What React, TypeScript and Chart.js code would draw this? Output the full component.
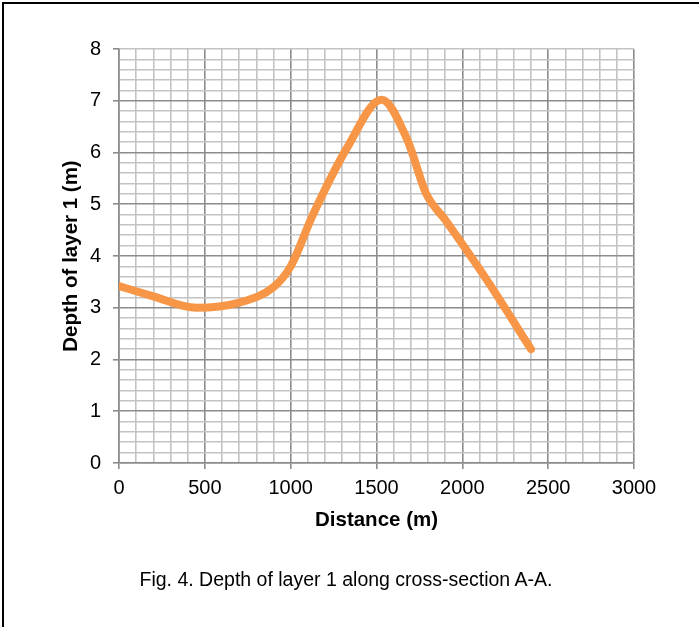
import React, { useEffect, useRef } from "react";
import { Chart, registerables } from "chart.js";

Chart.register(...registerables);

const distances = [0, 200, 450, 700, 900, 1000, 1130, 1330, 1530, 1680, 1790, 1900, 2150, 2400];
const depths = [3.42, 3.22, 3.0, 3.1, 3.4, 3.8, 4.8, 6.1, 7.02, 6.24, 5.2, 4.7, 3.5, 2.2];
const xMajorStep = 500;
const yMajorStep = 1;
const xTitle = "Distance (m)";
const yTitle = "Depth of layer 1 (m)";
const caption = "Fig. 4. Depth of layer 1 along cross-section A-A.";

const isMajor = (v: number, step: number) => Math.abs(v / step - Math.round(v / step)) < 1e-6;

export default function App() {
  const ref = useRef<HTMLCanvasElement | null>(null);
  useEffect(() => {
    if (!ref.current) return;
    const fam = "'Liberation Sans', Arial, sans-serif";
    const font = { family: fam, size: 20 };
    const chart = new Chart(ref.current, {
      type: "line",
      data: {
        datasets: [
          {
            data: distances.map((d, i) => ({ x: d, y: depths[i] })),
            borderColor: "#F79646",
            borderWidth: 8,
            borderCapStyle: "round",
            borderJoinStyle: "round",
            pointRadius: 0,
            cubicInterpolationMode: "monotone",
            fill: false,
          },
        ],
      },
      options: {
        animation: false,
        responsive: false,
        maintainAspectRatio: false,
        layout: { padding: { left: 0, right: 65, top: 49, bottom: 64 } },
        plugins: { legend: { display: false }, tooltip: { enabled: false } },
        scales: {
          x: {
            type: "linear",
            min: 0,
            max: 3000,
            afterFit: (s: any) => {
              s.height = 100;
            },
            ticks: {
              stepSize: 100,
              autoSkip: false,
              maxRotation: 0,
              color: "#000",
              font,
              padding: 7,
              callback: (v: any) => (isMajor(Number(v), xMajorStep) ? String(v) : ""),
            },
            grid: {
              lineWidth: 1.6,
              color: (ctx: any) => (isMajor(ctx.tick.value, xMajorStep) ? "#8c8c8c" : "#c3c3c3"),
              tickColor: (ctx: any) => (isMajor(ctx.tick.value, xMajorStep) ? "#8c8c8c" : "rgba(0,0,0,0)"),
              tickLength: 6,
            },
            border: { color: "#8c8c8c", width: 1.6 },
            title: {
              display: true,
              text: xTitle,
              color: "#000",
              font: { family: fam, size: 20.5, weight: "bold" },
              padding: { top: 0, bottom: 30 },
            },
          },
          y: {
            min: 0,
            max: 8,
            afterFit: (s: any) => {
              s.width = 119;
            },
            ticks: {
              stepSize: 0.2,
              autoSkip: false,
              color: "#000",
              font,
              padding: 12,
              callback: (v: any) => (isMajor(Number(v), yMajorStep) ? String(Math.round(Number(v))) : ""),
            },
            grid: {
              lineWidth: 1.6,
              color: (ctx: any) => (isMajor(ctx.tick.value, yMajorStep) && ctx.tick.value < 7.9 ? "#8c8c8c" : "#c3c3c3"),
              tickColor: (ctx: any) => (isMajor(ctx.tick.value, yMajorStep) ? "#8c8c8c" : "rgba(0,0,0,0)"),
              tickLength: 6,
            },
            border: { color: "#8c8c8c", width: 1.6 },
            title: {
              display: true,
              text: yTitle,
              color: "#000",
              font: { family: fam, size: 20.5, weight: "bold" },
              padding: { top: 59, bottom: 0 },
            },
          },
        },
      },
    } as any);
    return () => chart.destroy();
  }, []);

  return (
    <div style={{ position: "absolute", left: 0, top: 0, width: 699, height: 627, background: "#fff", overflow: "hidden" }}>
      <canvas ref={ref} width={699} height={627} style={{ position: "absolute", left: 0, top: 0 }} />
      <div
        style={{
          position: "absolute",
          left: 2,
          top: 2,
          width: 697,
          height: 625,
          borderLeft: "2px solid #000",
          borderTop: "2px solid #000",
          pointerEvents: "none",
        }}
      />
      <div
        style={{
          position: "absolute",
          left: 0,
          width: 692,
          top: 567,
          textAlign: "center",
          fontFamily: "'Liberation Sans', Arial, sans-serif",
          fontSize: 19.5,
          lineHeight: "24px",
          color: "#000",
        }}
      >
        {caption}
      </div>
    </div>
  );
}
